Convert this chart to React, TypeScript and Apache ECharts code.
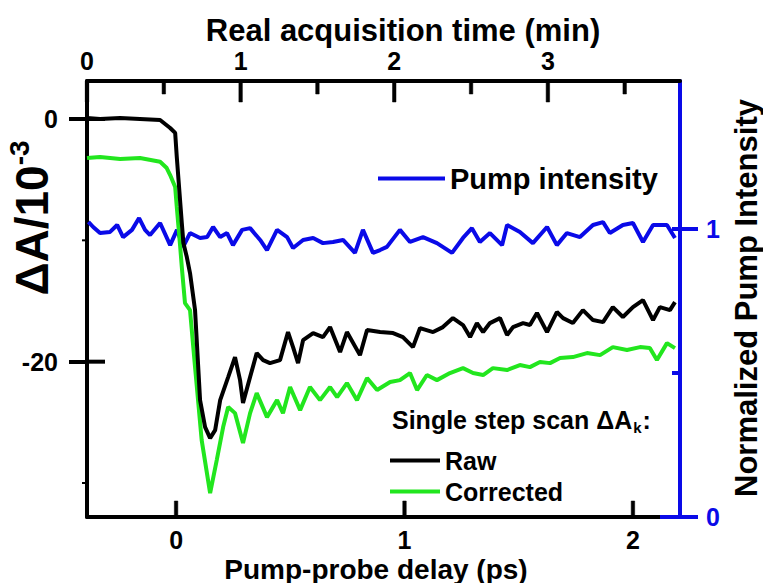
import React, { useEffect, useRef } from "react";
import * as echarts from "echarts";

const FONT = "'Liberation Sans', Arial, sans-serif";

// Pump-probe delay (ps) and ΔA/10^-3 for the raw scan
const rawDelayPs = [-0.39,-0.333,-0.245,-0.158,-0.07,-0.026,-0.004,0.003,0.025,0.032,0.047,0.061,0.083,0.105,0.127,0.149,0.171,0.193,0.228,0.258,0.28,0.293,0.324,0.353,0.381,0.411,0.455,0.49,0.512,0.534,0.556,0.6,0.643,0.674,0.718,0.748,0.805,0.836,0.893,0.95,0.993,1.037,1.068,1.125,1.168,1.212,1.256,1.287,1.317,1.344,1.374,1.418,1.449,1.475,1.519,1.549,1.58,1.624,1.667,1.694,1.737,1.781,1.825,1.869,1.912,1.956,2.0,2.044,2.088,2.118,2.162,2.184];
const rawDeltaA = [0.08,0,0.08,0,-0.08,-0.74,-1.15,-3.13,-8.57,-10.22,-11.38,-12.7,-15.75,-23.17,-25.39,-26.3,-25.64,-23.17,-21.27,-19.62,-21.52,-23.41,-21.27,-19.29,-19.87,-20.12,-19.87,-17.56,-18.8,-20.12,-18.22,-17.64,-17.97,-17.15,-19.21,-17.56,-19.46,-17.39,-17.56,-17.64,-17.97,-18.8,-17.23,-17.56,-17.15,-16.41,-16.98,-17.97,-16.82,-17.56,-16.82,-16.41,-17.81,-17.15,-16.82,-16.98,-15.99,-17.56,-15.91,-16.41,-16.82,-15.75,-16.57,-16.74,-15.5,-16.32,-15.5,-14.92,-16.57,-15.5,-15.75,-15.09];

// Corrected scan
const corrDelayPs = [-0.39,-0.333,-0.245,-0.158,-0.07,-0.041,-0.026,-0.004,0.003,0.018,0.025,0.039,0.061,0.083,0.112,0.149,0.178,0.206,0.228,0.258,0.293,0.324,0.353,0.398,0.442,0.468,0.499,0.543,0.586,0.63,0.674,0.705,0.748,0.792,0.836,0.88,0.937,0.98,1.024,1.055,1.098,1.142,1.199,1.256,1.3,1.344,1.387,1.449,1.505,1.549,1.593,1.637,1.681,1.737,1.799,1.856,1.912,1.974,2.031,2.074,2.105,2.149,2.184];
const corrDeltaA = [-3.22,-3.13,-3.3,-3.22,-3.52,-4.04,-4.62,-5.61,-7.23,-10.53,-12.2,-15.17,-15.75,-20.45,-26.46,-30.83,-28.11,-25.39,-23.74,-24.24,-26.71,-24.24,-22.59,-24.57,-23.17,-24.24,-22.09,-23.99,-22.09,-23.17,-22.09,-22.92,-21.76,-23.17,-21.35,-22.34,-21.68,-21.52,-20.94,-22.34,-21.1,-21.52,-20.94,-20.53,-20.94,-21.1,-20.53,-20.69,-20.28,-20.45,-20.03,-20.12,-19.7,-19.62,-19.29,-19.46,-18.8,-19.04,-18.8,-18.88,-19.87,-18.47,-18.88];

// Normalized pump intensity
const pumpDelayPs = [-0.384,-0.363,-0.333,-0.289,-0.258,-0.232,-0.193,-0.162,-0.136,-0.114,-0.07,-0.026,0.004,0.031,0.061,0.105,0.136,0.162,0.193,0.223,0.249,0.289,0.324,0.368,0.398,0.442,0.486,0.512,0.556,0.6,0.643,0.687,0.731,0.783,0.818,0.862,0.893,0.923,0.98,1.024,1.081,1.142,1.208,1.256,1.295,1.33,1.374,1.427,1.449,1.505,1.562,1.624,1.667,1.711,1.768,1.825,1.869,1.899,1.956,2.0,2.044,2.088,2.149,2.184];
const pumpIntensity = [1.025,1.007,0.986,0.99,1.014,0.972,0.997,1.038,0.997,0.979,1.021,0.944,0.997,0.938,0.986,0.969,0.972,1.007,0.972,0.986,0.944,0.997,1.003,0.962,0.927,0.997,0.972,0.934,0.962,0.969,0.951,0.955,0.962,0.917,0.997,0.917,0.927,0.938,0.997,0.955,0.972,0.951,0.917,0.969,1.003,0.955,0.986,0.944,1.014,0.99,0.951,1.007,0.944,0.986,0.972,1.014,1.024,0.986,1.014,1.021,0.955,1.014,1.014,0.969];

// Tick values
const bottomTicks = [0, 1, 2];
const topTicks = [0, 1, 2, 3];
const topMinorTicks = [0.5, 1.5, 2.5, 3.5];
const leftTicks = [0, -20];
const leftMinorTicks = [-10, -30];
const rightTicks = [0, 1];
const rightZeroTick = [0];
const rightInnerTicks = [0.5, 1];

const zip = (xs: number[], ys: number[]) =>
  xs.slice(0, Math.min(xs.length, ys.length)).map((x, i) => [x, ys[i]]);

const BLUE = "#0a0ae8";
const GREEN = "#22e61e";

export default function App() {
  const ref = useRef<HTMLDivElement>(null);
  useEffect(() => {
    if (!ref.current) return;
    const chart = echarts.init(ref.current, undefined, { renderer: "svg" });
    const labelStyle = { fontFamily: FONT, fontWeight: "bold" as const, fontSize: 25, color: "#000" };
    const xRange = { min: -0.39, max: 2.206 };
    const topRange = { min: 0, max: 3.86 };
    const leftRange = { min: -32.8, max: 3.13 };
    const rightRange = { min: 0, max: 1.514 };

    // horizontal tick marks placed through the axes' own scales (api.coord)
    const hTickSeries = (yAxisIndex: number, points: number[][], dx: number, color: string, w: number) => ({
      type: "custom", xAxisIndex: 0, yAxisIndex, silent: true, z: 100, clip: false,
      data: points,
      renderItem: (_params: any, api: any) => {
        const p = api.coord([api.value(0), api.value(1)]);
        return {
          type: "rect",
          shape: { x: Math.min(p[0], p[0] + dx), y: p[1] - w / 2, width: Math.abs(dx), height: w },
          style: { fill: color },
        };
      },
    });

    const textGraphics: any[] = [
      {
        type: "text", x: 32, y: 218, rotation: Math.PI / 2,
        style: {
          text: "{a|ΔA/10}{s|-3}",
          align: "center", verticalAlign: "middle",
          rich: {
            a: { fontFamily: FONT, fontWeight: "bold", fontSize: 46, fill: "#000" },
            s: { fontFamily: FONT, fontWeight: "bold", fontSize: 28, fill: "#000", padding: [0, 0, 26, 0] },
          },
        },
      },
      {
        type: "text", x: 746, y: 298, rotation: Math.PI / 2,
        style: {
          text: "Normalized Pump Intensity", align: "center", verticalAlign: "middle",
          fontFamily: FONT, fontWeight: "bold", fontSize: 31, fill: "#000",
        },
      },
      {
        type: "text", x: 403, y: 30,
        style: {
          text: "Real acquisition time (min)", align: "center", verticalAlign: "middle",
          fontFamily: FONT, fontWeight: "bold", fontSize: 31, fill: "#000",
        },
      },
      {
        type: "text", x: 376, y: 569,
        style: {
          text: "Pump-probe delay (ps)", align: "center", verticalAlign: "middle",
          fontFamily: FONT, fontWeight: "bold", fontSize: 28, fill: "#000",
        },
      },
      {
        type: "text", x: 392, y: 420,
        style: {
          text: "{a|Single step scan ΔA}{s|k}{a|:}", align: "left", verticalAlign: "middle",
          rich: {
            a: { fontFamily: FONT, fontWeight: "bold", fontSize: 25, fill: "#000" },
            s: { fontFamily: FONT, fontWeight: "bold", fontSize: 15, fill: "#000", padding: [14, 1, 0, 1] },
          },
        },
      },
    ];

    chart.setOption({
      animation: false,
      backgroundColor: "#fff",
      grid: { left: 87, right: 83, top: 81, bottom: 66, outerBoundsMode: "none" },
      xAxis: [
        {
          type: "value", position: "bottom", ...xRange,
          axisLine: { show: true, onZero: false, lineStyle: { color: "#000", width: 4 } },
          axisTick: { show: false },
          axisLabel: { ...labelStyle, customValues: bottomTicks, margin: 10 },
          splitLine: { show: false },
        },
        {
          type: "value", position: "top", ...topRange,
          axisLine: { show: true, onZero: false, lineStyle: { color: "#000", width: 4 } },
          axisTick: { show: false },
          axisLabel: { ...labelStyle, customValues: topTicks, margin: 8 },
          splitLine: { show: false },
        },
      ],
      yAxis: [
        {
          type: "value", position: "left", ...leftRange,
          axisLine: { show: true, onZero: false, lineStyle: { color: "#000", width: 4 } },
          axisTick: { show: true, inside: false, length: 18, customValues: leftTicks, lineStyle: { color: "#000", width: 4 } },
          axisLabel: { ...labelStyle, customValues: leftTicks, margin: 29 },
          splitLine: { show: false },
        },
        {
          type: "value", position: "right", ...rightRange,
          axisLine: { show: true, onZero: false, lineStyle: { color: BLUE, width: 4 } },
          axisTick: { show: true, inside: false, length: 18, customValues: rightTicks, lineStyle: { color: BLUE, width: 4 } },
          axisLabel: { ...labelStyle, color: BLUE, customValues: rightTicks, margin: 26 },
          splitLine: { show: false },
        },
      ],
      legend: [
        {
          data: ["Pump intensity"], left: 378, top: 164, padding: 0,
          icon: "rect", itemWidth: 67, itemHeight: 4,
          textStyle: { fontFamily: FONT, fontWeight: "bold", fontSize: 29, color: "#000" },
        },
        {
          data: ["Raw", "Corrected"], orient: "vertical", left: 390, top: 448, padding: 0,
          icon: "rect", itemWidth: 50, itemHeight: 4, itemGap: 6,
          textStyle: { fontFamily: FONT, fontWeight: "bold", fontSize: 25, color: "#000" },
        },
      ],
      graphic: textGraphics,
      series: [
        {
          name: "Pump intensity", type: "line", xAxisIndex: 0, yAxisIndex: 1,
          data: zip(pumpDelayPs, pumpIntensity), symbol: "none", showSymbol: false,
          lineStyle: { color: BLUE, width: 4 }, itemStyle: { color: BLUE },
        },
        {
          name: "Corrected", type: "line", xAxisIndex: 0, yAxisIndex: 0,
          data: zip(corrDelayPs, corrDeltaA), symbol: "none", showSymbol: false,
          lineStyle: { color: GREEN, width: 4 }, itemStyle: { color: GREEN },
        },
        {
          name: "Raw", type: "line", xAxisIndex: 0, yAxisIndex: 0,
          data: zip(rawDelayPs, rawDeltaA), symbol: "none", showSymbol: false,
          lineStyle: { color: "#000", width: 4 }, itemStyle: { color: "#000" },
        },
        // left axis: inside part of the crossing ticks, and small outside minor ticks
        hTickSeries(0, leftTicks.map((v) => [xRange.min, v]), 18, "#000", 4),
        hTickSeries(0, leftMinorTicks.map((v) => [xRange.min, v]), -5, "#000", 2),
        // right axis: inside ticks
        hTickSeries(1, rightZeroTick.map((v) => [xRange.max, v]), -20, BLUE, 4),
        hTickSeries(1, rightInnerTicks.map((v) => [xRange.max, v]), -8, BLUE, 4),
      ],
    });

    // vertical inside ticks of the top and bottom axes, located with the axes' own scales
    const tickRects: any[] = [];
    const addVTicks = (xAxisIndex: number, vals: number[], yVal: number, len: number) => {
      vals.forEach((v) => {
        const p = chart.convertToPixel({ xAxisIndex, yAxisIndex: 0 } as any, [v, yVal]) as number[];
        if (!p || !isFinite(p[0]) || !isFinite(p[1])) return;
        tickRects.push({
          type: "rect", z: 200, zlevel: 2, silent: true,
          shape: { x: p[0] - 1.75, y: len > 0 ? p[1] : p[1] + len, width: 3.5, height: Math.abs(len) },
          style: { fill: "#000", stroke: "#000", lineWidth: 0.5 },
        });
      });
    };
    addVTicks(0, bottomTicks, leftRange.min, -16);
    addVTicks(1, topTicks, leftRange.max, 21);
    addVTicks(1, topMinorTicks, leftRange.max, 13);
    chart.setOption({ graphic: [...textGraphics, ...tickRects] });

    return () => chart.dispose();
  }, []);
  return (
    <div
      ref={ref}
      style={{ position: "fixed", left: 0, top: 0, width: 763, height: 583, background: "#fff" }}
    />
  );
}
